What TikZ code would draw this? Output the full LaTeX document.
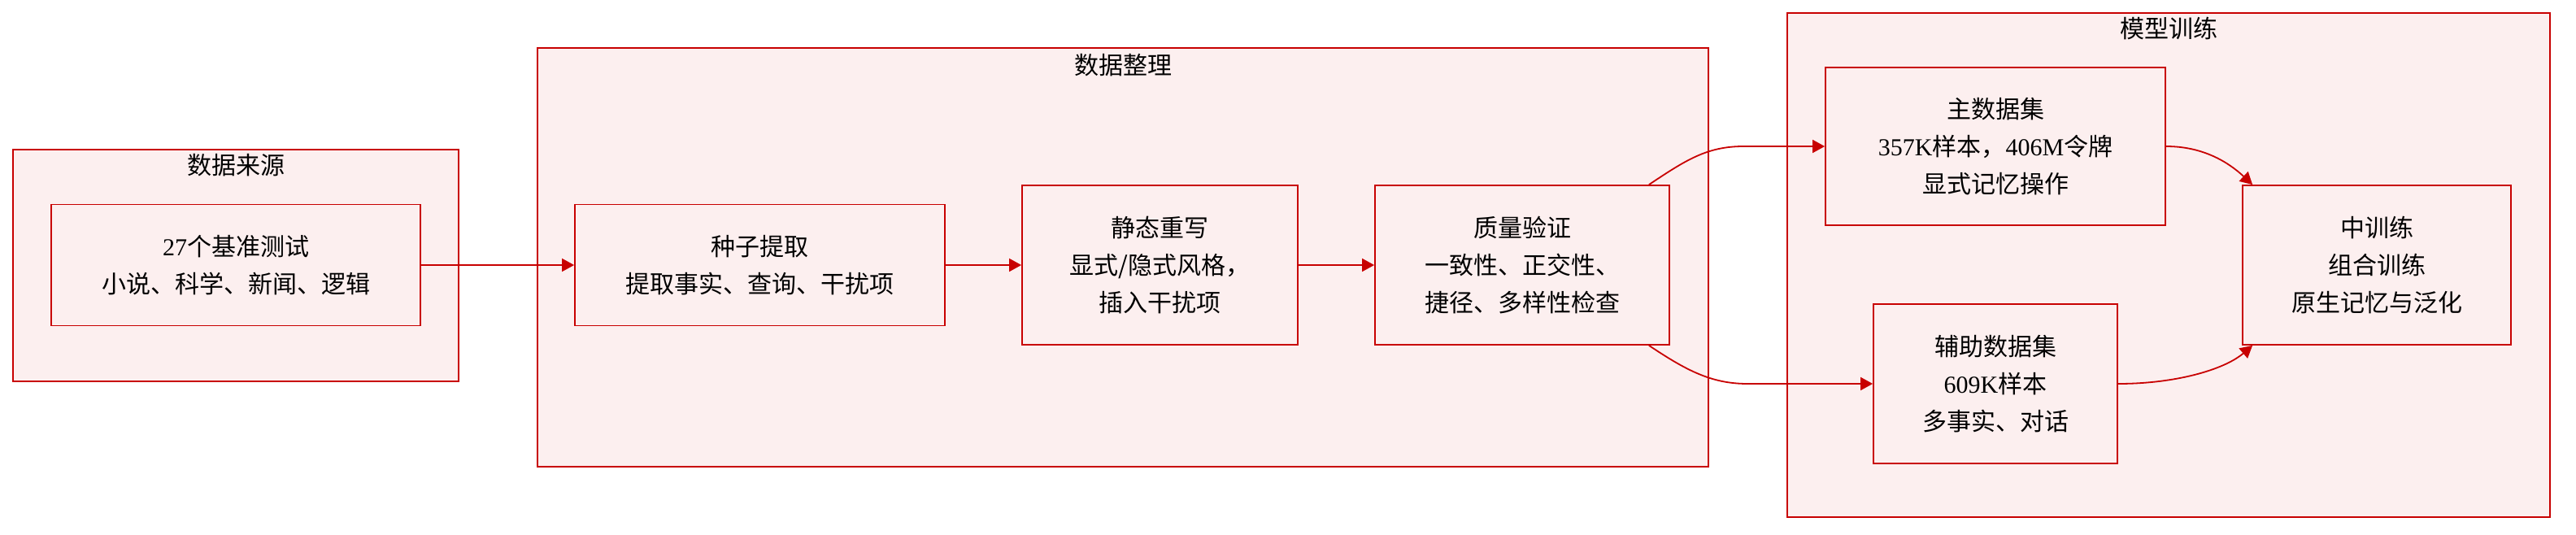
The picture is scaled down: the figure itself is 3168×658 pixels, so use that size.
\documentclass[tikz,border=0pt]{standalone}
\usepackage{fontspec}
\setmainfont{Liberation Serif}
\newfontfamily\cjk{Noto Sans CJK SC}
\usepackage{tikz}
\usetikzlibrary{arrows.meta,calc}
\definecolor{flowred}{HTML}{C80000}
\definecolor{flowpink}{HTML}{FCEFEF}
\newcommand{\ltn}[1]{{\rmfamily #1}}
\tikzset{
  group/.style={draw=flowred, fill=flowpink, line width=0.9pt},
  grouptitle/.style={font=\cjk\fontsize{15}{18}\selectfont},
  stage/.style={draw=flowred, fill=flowpink, line width=0.9pt, align=center, font=\cjk\fontsize{15}{23}\selectfont},
  arr/.style={draw=flowred, line width=0.9pt, -{Triangle[length=7.5pt,width=8pt]}},
}

\begin{document}
\begin{tikzpicture}[x=0.5pt, y=-0.5pt]
    \useasboundingbox (0,0) rectangle (3168,658);
    % groups
    \node[group, minimum width=274pt, minimum height=142.5pt] (src) at (290,326.5) {};
    \node[grouptitle] (srcT) at ([yshift=-10pt]src.north) {数据来源};
    \node[group, minimum width=720pt, minimum height=257.5pt] (cur) at (1381,316.5) {};
    \node[grouptitle] (curT) at ([yshift=-11pt]cur.north) {数据整理};
    \node[group, minimum width=469pt, minimum height=310pt] (train) at (2667,326) {};
    \node[grouptitle] (trainT) at ([yshift=-10pt]train.north) {模型训练};

    % stages
    \node[stage, minimum width=227pt, minimum height=74.5pt] (bench) at (290,326) {\ltn{27}个基准测试\\小说、科学、新闻、逻辑};
    \node[stage, minimum width=227.5pt, minimum height=74.5pt] (seed) at (934.5,326) {种子提取\\提取事实、查询、干扰项};
    \node[stage, minimum width=169.5pt, minimum height=98pt] (rewrite) at (1426.5,326) {静态重写\\显式/隐式风格，\\插入干扰项};
    \node[stage, minimum width=181pt, minimum height=98pt] (verify) at (1872,326) {质量验证\\一致性、正交性、\\捷径、多样性检查};
    \node[stage, minimum width=209pt, minimum height=97pt] (main) at (2454,180) {主数据集\\\ltn{357K}样本，\ltn{406M}令牌\\显式记忆操作};
    \node[stage, minimum width=150pt, minimum height=98pt] (aux) at (2454,472) {辅助数据集\\\ltn{609K}样本\\多事实、对话};
    \node[stage, minimum width=165pt, minimum height=98pt] (mid) at (2923,326) {中训练\\组合训练\\原生记忆与泛化};

    % flow
    \draw[arr] (bench) -- (seed);
    \draw[arr] (seed) -- (rewrite);
    \draw[arr] (rewrite) -- (verify);
    \draw[arr] ([xshift=-13pt]verify.north east) .. controls +(45,-30) and +(-45,0) .. ([xshift=-50pt]main.west) -- (main.west);
    \draw[arr] ([xshift=-13pt]verify.south east) .. controls +(45,30) and +(-45,0) .. ([xshift=-77pt]aux.west) -- (aux.west);
    \draw[arr] (main.east) .. controls +(45,0) and +(-30,-28) .. ([xshift=6.5pt]mid.north west);
    \draw[arr] (aux.east) .. controls +(70,0) and +(-35,30) .. ([xshift=6.5pt]mid.south west);
\end{tikzpicture}
\end{document}
